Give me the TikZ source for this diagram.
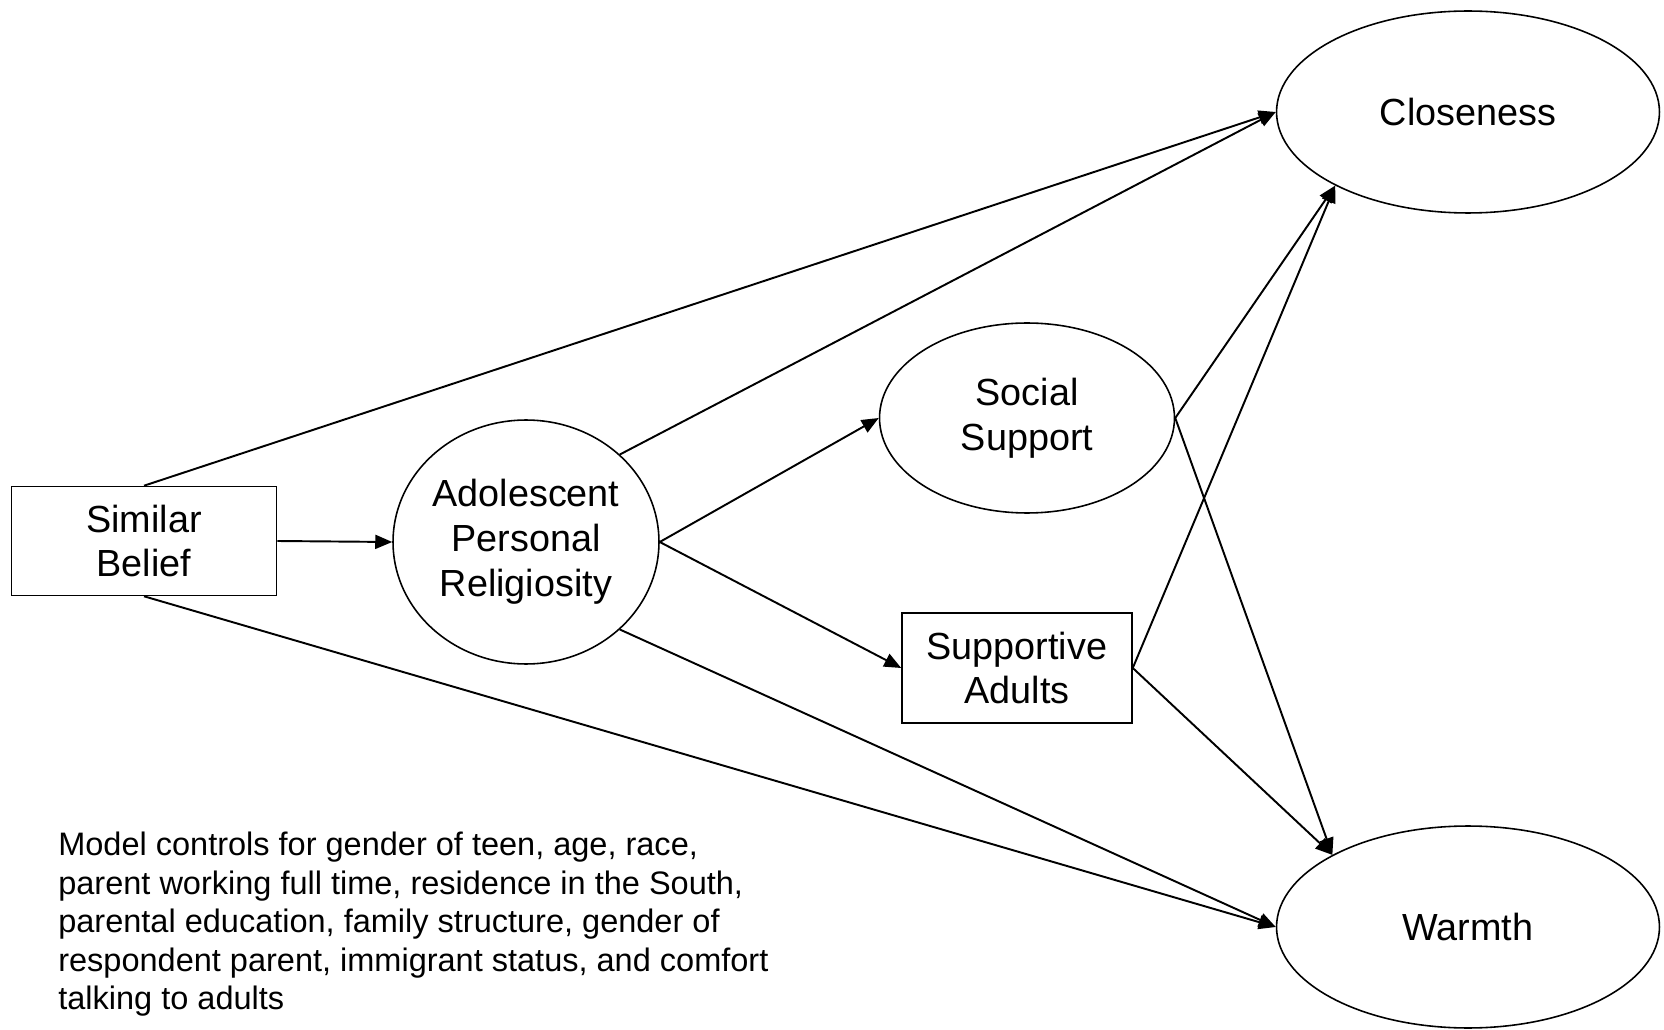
\documentclass[tikz,border=0pt]{standalone}
\usepackage{fontspec}
\setmainfont{Liberation Sans}
\usetikzlibrary{shapes.geometric,arrows.meta}
\begin{document}
\begin{tikzpicture}[x=0.02cm,y=-0.02cm,
    box/.style={draw,line width=0.9pt,inner sep=0pt,align=center,font=\fontsize{21.5}{25.5}\selectfont},
    oval/.style={ellipse,draw,line width=0.9pt,inner sep=0pt,align=center,font=\fontsize{21.5}{25.5}\selectfont},
    link/.style={line width=1.1pt,-{Triangle[length=0.34cm,width=0.28cm]}}]
    \useasboundingbox (0,0) rectangle (1664,1030);

    % variables
    \node[box,minimum width=5.3cm,minimum height=2.18cm] (belief) at (144,541) {Similar\\Belief};
    \node[oval,minimum width=5.32cm,minimum height=4.88cm] (relig) at (526,542) {Adolescent\\Personal\\Religiosity};
    \node[oval,minimum width=5.9cm,minimum height=3.8cm] (social) at (1027,418) {Social\\Support};
    \node[box,minimum width=4.6cm,minimum height=2.2cm] (adults) at (1017,668) {Supportive\\Adults};
    \node[oval,minimum width=7.66cm,minimum height=4.04cm] (close) at (1468,112) {Closeness};
    \node[oval,minimum width=7.66cm,minimum height=4.04cm] (warm) at (1468,927) {Warmth};

    % paths
    \draw[link] (belief.east) -- (relig.west);
    \draw[link] (belief.north) -- (close.west);
    \draw[link] (belief.south) -- (warm.west);
    \draw[link] (relig.43) -- (close.west);
    \draw[link] (relig.-43) -- (warm.west);
    \draw[link] (relig.east) -- (social.west);
    \draw[link] (relig.east) -- (adults.west);
    \draw[link] (social.east) -- (close.209);
    \draw[link] (social.east) -- (warm.152);
    \draw[link] (adults.east) -- (close.209);
    \draw[link] (adults.east) -- (warm.152);

    \node[anchor=north west,inner sep=0pt,align=left,font=\fontsize{18.5}{21.9}\selectfont] (note) at (58,832)
        {Model controls for gender of teen, age, race,\\
         parent working full time, residence in the South,\\
         parental education, family structure, gender of\\
         respondent parent, immigrant status, and comfort\\
         talking to adults};
\end{tikzpicture}
\end{document}
